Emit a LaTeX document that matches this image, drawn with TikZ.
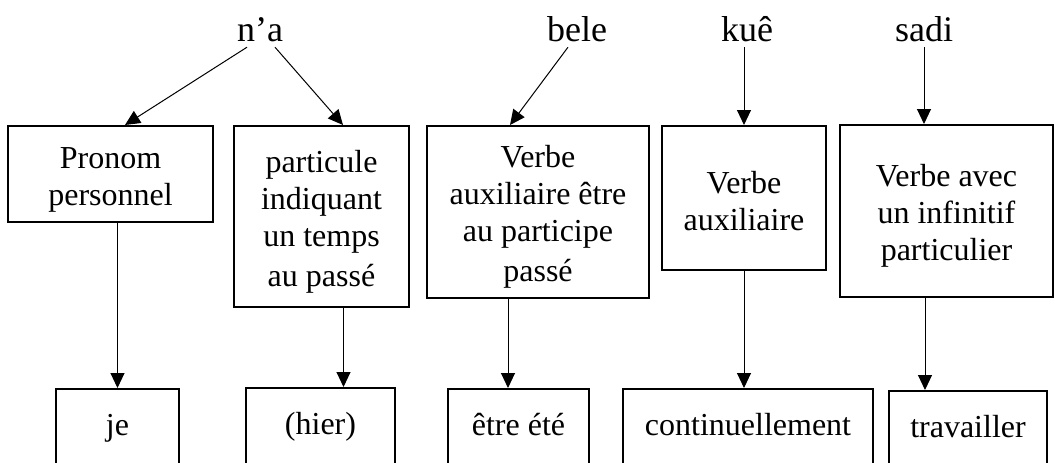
\documentclass[tikz,border=0pt]{standalone}
\usepackage{fontspec}
\setmainfont{Liberation Serif}
\usetikzlibrary{arrows.meta}
\newcommand\bstrut{\rule[-9pt]{0pt}{30.5pt}}
\newcommand\mstrut{\rule[-4pt]{0pt}{36pt}}
\begin{document}
\begin{tikzpicture}[x=1pt,y=1pt,
  box/.style={draw, line width=2pt, inner sep=0pt, align=center, font=\fontsize{32}{37}\selectfont},
  lowbox/.style={box, anchor=north, minimum height=80pt},
  word/.style={inner xsep=0pt, inner ysep=6pt, text depth=0pt, anchor=base, font=\fontsize{36}{40}\selectfont},
  arr/.style={line width=1pt, -{Triangle[length=15pt,width=14pt]}}]
\useasboundingbox (0,0) rectangle (1055,-463);
% top words
\node[word] (na)   at (260,-41) {n’a};
\node[word] (bele) at (577,-41) {bele};
\node[word] (kue)  at (747,-41) {kuê};
\node[word] (sadi) at (924,-41) {sadi};
% middle boxes
\node[box, minimum width=205pt, minimum height=96pt]  (b1) at (110.5,-174) {\mstrut Pronom\\personnel\mstrut};
\node[box, minimum width=175pt, minimum height=181pt] (b2) at (321.5,-216.5) {\mstrut particule\\indiquant\\un temps\\au passé\mstrut};
\node[box, minimum width=222pt, minimum height=172pt] (b3) at (538,-212) {\mstrut Verbe\\auxiliaire être\\au participe\\passé\mstrut};
\node[box, minimum width=164pt, minimum height=144pt] (b4) at (744,-198) {\mstrut Verbe\\auxiliaire\mstrut};
\node[box, minimum width=213pt, minimum height=172pt] (b5) at (946.5,-211) {\mstrut Verbe avec\\un infinitif\\particulier\mstrut};
% bottom boxes
\node[lowbox, minimum width=123pt] (c1) at (117.5,-388) {\bstrut je};
\node[lowbox, minimum width=149pt] (c2) at (320.5,-387) {\bstrut (hier)};
\node[lowbox, minimum width=141pt] (c3) at (518.5,-388) {\bstrut être été};
\node[lowbox, minimum width=250pt] (c4) at (748,-388) {\bstrut continuellement};
\node[lowbox, minimum width=158pt] (c5) at (968,-390) {\bstrut travailler};
% arrows
\draw[arr] ([xshift=-13pt]na.south) -- ([xshift=14.5pt]b1.north);
\draw[arr] ([xshift=15pt]na.south) -- ([xshift=21.5pt]b2.north);
\draw[arr] ([xshift=-9pt]bele.south) -- ([xshift=-28pt]b3.north);
\draw[arr] (b4.north |- kue.south) -- (b4.north);
\draw[arr] (sadi.south) -- (sadi.south |- b5.north);
\draw[arr] (c1.north |- b1.south) -- (c1.north);
\draw[arr] ([xshift=22pt]b2.south) -- ([xshift=23pt]c2.north);
\draw[arr] ([xshift=-30pt]b3.south) -- ([xshift=-10.5pt]c3.north);
\draw[arr] (b4.south) -- ([xshift=-4pt]c4.north);
\draw[arr] ([xshift=-21.5pt]b5.south) -- ([xshift=-43pt]c5.north);
\end{tikzpicture}
\end{document}
